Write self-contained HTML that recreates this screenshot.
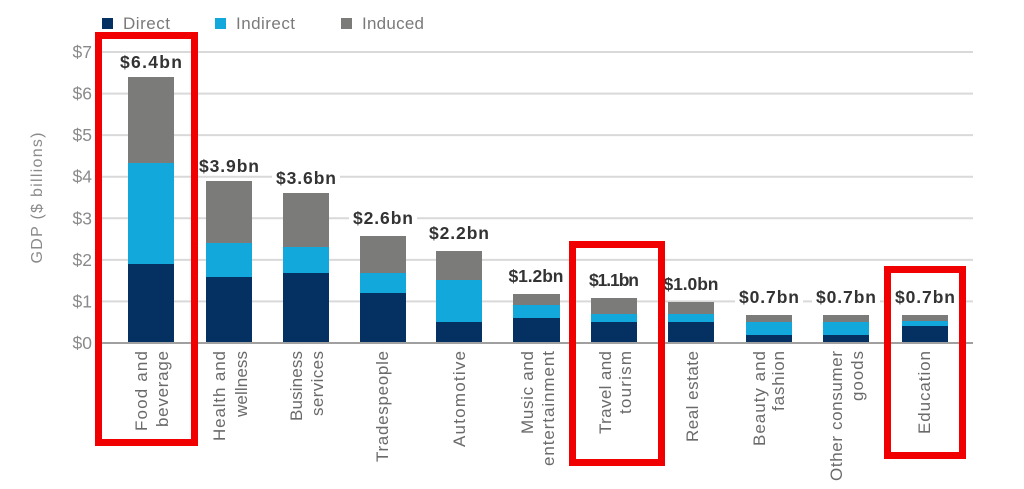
<!DOCTYPE html>
<html><head><meta charset="utf-8"><style>
html,body{margin:0;padding:0;background:#fff;}
svg{display:block;}
text{font-family:"Liberation Sans",sans-serif;}
</style></head><body>
<svg width="1024" height="489" viewBox="0 0 1024 489" xmlns="http://www.w3.org/2000/svg">
<rect width="1024" height="489" fill="#fff"/>
<!-- gridlines -->
<g stroke="#d9d9d9" stroke-width="2">
<line x1="102" y1="52" x2="973" y2="52"/>
<line x1="102" y1="93.6" x2="973" y2="93.6"/>
<line x1="102" y1="135.1" x2="973" y2="135.1"/>
<line x1="102" y1="176.7" x2="973" y2="176.7"/>
<line x1="102" y1="218.3" x2="973" y2="218.3"/>
<line x1="102" y1="259.9" x2="973" y2="259.9"/>
<line x1="102" y1="301.4" x2="973" y2="301.4"/>
</g>
<!-- y tick labels -->
<g font-size="17.5" fill="#8a8a8a" text-anchor="end">
<text x="92" y="58">$7</text>
<text x="92" y="99.6">$6</text>
<text x="92" y="141.1">$5</text>
<text x="92" y="182.7">$4</text>
<text x="92" y="224.3">$3</text>
<text x="92" y="265.9">$2</text>
<text x="92" y="307.4">$1</text>
<text x="92" y="349">$0</text>
</g>
<text transform="translate(42,198) rotate(-90)" font-size="16" fill="#8a8a8a" text-anchor="middle" textLength="131">GDP ($ billions)</text>
<!-- legend -->
<rect x="102" y="18" width="11" height="11" fill="#053162"/>
<text x="123" y="29" font-size="17" fill="#7a7a7a" textLength="47">Direct</text>
<rect x="215" y="18" width="11" height="11" fill="#12a8dc"/>
<text x="236" y="29" font-size="17" fill="#7a7a7a" textLength="59">Indirect</text>
<rect x="341" y="18" width="11" height="11" fill="#7b7b79"/>
<text x="362" y="29" font-size="17" fill="#7a7a7a" textLength="62">Induced</text>

<!-- bars -->
<g>
<rect x="128" y="264" width="46" height="79" fill="#053162"/>
<rect x="128" y="163" width="46" height="101" fill="#12a8dc"/>
<rect x="128" y="77" width="46" height="86" fill="#7b7b79"/>
<rect x="206" y="277" width="46" height="66" fill="#053162"/>
<rect x="206" y="243" width="46" height="34" fill="#12a8dc"/>
<rect x="206" y="181" width="46" height="62" fill="#7b7b79"/>
<rect x="283" y="273" width="46" height="70" fill="#053162"/>
<rect x="283" y="247" width="46" height="26" fill="#12a8dc"/>
<rect x="283" y="193" width="46" height="54" fill="#7b7b79"/>
<rect x="360" y="293" width="46" height="50" fill="#053162"/>
<rect x="360" y="273" width="46" height="20" fill="#12a8dc"/>
<rect x="360" y="236" width="46" height="37" fill="#7b7b79"/>
<rect x="436" y="322" width="46" height="21" fill="#053162"/>
<rect x="436" y="280" width="46" height="42" fill="#12a8dc"/>
<rect x="436" y="251" width="46" height="29" fill="#7b7b79"/>
<rect x="513" y="318" width="47" height="25" fill="#053162"/>
<rect x="513" y="305" width="47" height="13" fill="#12a8dc"/>
<rect x="513" y="294" width="47" height="11" fill="#7b7b79"/>
<rect x="591" y="322" width="46" height="21" fill="#053162"/>
<rect x="591" y="314" width="46" height="8" fill="#12a8dc"/>
<rect x="591" y="298" width="46" height="16" fill="#7b7b79"/>
<rect x="668" y="322" width="46" height="21" fill="#053162"/>
<rect x="668" y="314" width="46" height="8" fill="#12a8dc"/>
<rect x="668" y="302" width="46" height="12" fill="#7b7b79"/>
<rect x="746" y="335" width="46" height="8" fill="#053162"/>
<rect x="746" y="322" width="46" height="13" fill="#12a8dc"/>
<rect x="746" y="315" width="46" height="7" fill="#7b7b79"/>
<rect x="823" y="335" width="46" height="8" fill="#053162"/>
<rect x="823" y="322" width="46" height="13" fill="#12a8dc"/>
<rect x="823" y="315" width="46" height="7" fill="#7b7b79"/>
<rect x="902" y="326" width="46" height="17" fill="#053162"/>
<rect x="902" y="321" width="46" height="5" fill="#12a8dc"/>
<rect x="902" y="315" width="46" height="6" fill="#7b7b79"/>
</g>
<!-- zero axis -->
<line x1="102" y1="343" x2="973" y2="343" stroke="#a0a0a0" stroke-width="2"/>

<!-- value labels with white bg -->
<g fill="#fff">
<rect x="117" y="54" width="68" height="17"/>
<rect x="195" y="158" width="68" height="17"/>
<rect x="272" y="170" width="68" height="17"/>
<rect x="349" y="210" width="68" height="17"/>
<rect x="425" y="225" width="68" height="17"/>
<rect x="502" y="268" width="68" height="17"/>
<rect x="580" y="272" width="68" height="17"/>
<rect x="657" y="276" width="68" height="17"/>
<rect x="735" y="289" width="68" height="17"/>
<rect x="812" y="289" width="68" height="17"/>
<rect x="891" y="289" width="68" height="17"/>
</g>
<g font-size="17.5" font-weight="bold" fill="#333" text-anchor="middle">
<text x="151" y="68" textLength="62">$6.4bn</text>
<text x="229" y="172" textLength="60">$3.9bn</text>
<text x="306" y="184" textLength="60">$3.6bn</text>
<text x="383" y="224" textLength="60">$2.6bn</text>
<text x="459" y="239" textLength="60">$2.2bn</text>
<text x="536" y="282" textLength="55">$1.2bn</text>
<text x="614" y="286" textLength="50">$1.1bn</text>
<text x="691" y="290" textLength="55">$1.0bn</text>
<text x="769" y="303" textLength="60">$0.7bn</text>
<text x="846" y="303" textLength="60">$0.7bn</text>
<text x="925" y="303" textLength="60">$0.7bn</text>
</g>

<!-- category labels -->
<g font-size="17" fill="#6a6a6a" text-anchor="end">
<text transform="translate(147,351) rotate(-90)" textLength="80">Food and</text>
<text transform="translate(168,351) rotate(-90)" textLength="76">beverage</text>
<text transform="translate(225,351) rotate(-90)" textLength="90">Health and</text>
<text transform="translate(247,351) rotate(-90)" textLength="66">wellness</text>
<text transform="translate(302,351) rotate(-90)" textLength="70">Business</text>
<text transform="translate(323,351) rotate(-90)" textLength="65">services</text>
<text transform="translate(388,351) rotate(-90)" textLength="111">Tradespeople</text>
<text transform="translate(465,351) rotate(-90)" textLength="96">Automotive</text>
<text transform="translate(533,351) rotate(-90)" textLength="83">Music and</text>
<text transform="translate(554,351) rotate(-90)" textLength="115">entertainment</text>
<text transform="translate(611,351) rotate(-90)" textLength="83">Travel and</text>
<text transform="translate(631,351) rotate(-90)" textLength="63">tourism</text>
<text transform="translate(698,351) rotate(-90)" textLength="91">Real estate</text>
<text transform="translate(765,351) rotate(-90)" textLength="95">Beauty and</text>
<text transform="translate(784,351) rotate(-90)" textLength="60">fashion</text>
<text transform="translate(842,351) rotate(-90)" textLength="130">Other consumer</text>
<text transform="translate(863,351) rotate(-90)" textLength="50">goods</text>
<text transform="translate(930,351) rotate(-90)" textLength="83">Education</text>
</g>

<!-- red highlight boxes -->
<g fill="none" stroke="#f00000" stroke-width="7">
<rect x="98.5" y="35.5" width="96" height="407"/>
<rect x="572.5" y="244.5" width="89" height="218"/>
<rect x="887.5" y="269.5" width="75" height="186"/>
</g>
</svg>
</body></html>
